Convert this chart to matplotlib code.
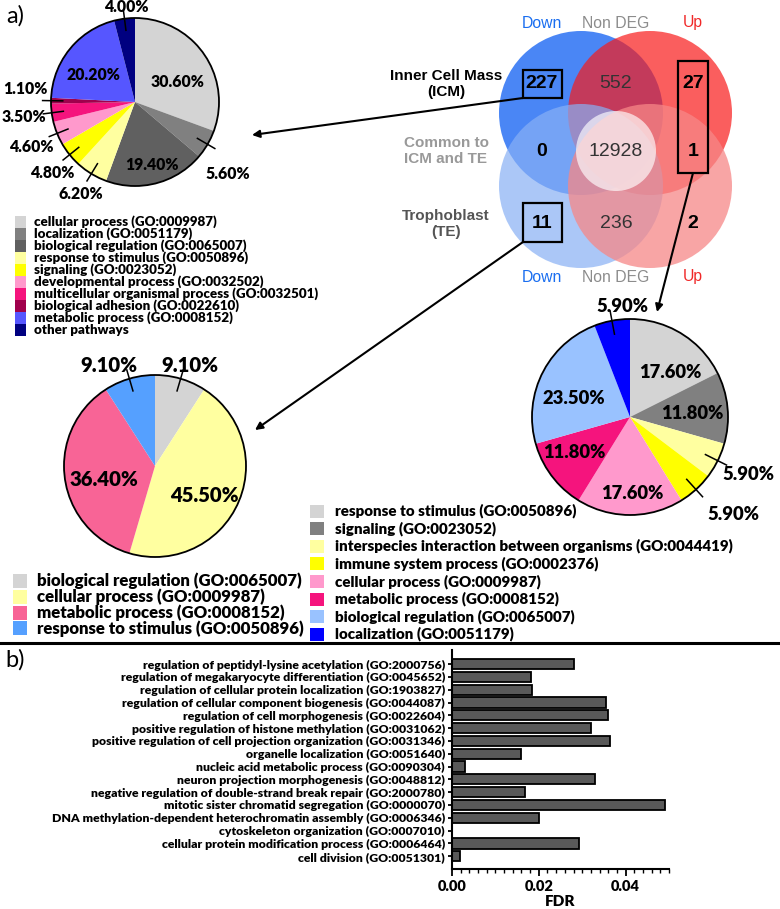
import numpy as np
import matplotlib.pyplot as plt
from matplotlib.patches import Circle, Rectangle

plt.rcParams['font.family'] = ['Lato', 'DejaVu Sans']
BOLD = 800

W, H = 780, 909

# --- data -------------------------------------------------------------
icm_down_terms = ['cellular process (GO:0009987)', 'localization (GO:0051179)',
                  'biological regulation (GO:0065007)', 'response to stimulus (GO:0050896)',
                  'signaling (GO:0023052)', 'developmental process (GO:0032502)',
                  'multicellular organismal process (GO:0032501)', 'biological adhesion (GO:0022610)',
                  'metabolic process (GO:0008152)', 'other pathways']
icm_down_pct = [30.6, 5.6, 19.4, 6.2, 4.8, 4.6, 3.5, 1.1, 20.2, 4.0]
icm_down_col = ['#d4d4d4', '#808080', '#606060', '#ffffa0', '#ffff00', '#ff99cc',
                '#f5147d', '#a0004c', '#5656ff', '#000080']

te_down_terms = ['biological regulation (GO:0065007)', 'cellular process (GO:0009987)',
                 'metabolic process (GO:0008152)', 'response to stimulus (GO:0050896)']
te_down_pct = [9.1, 45.5, 36.4, 9.1]
te_down_col = ['#d4d4d4', '#ffffa0', '#f86496', '#55a0ff']

icm_up_terms = ['response to stimulus (GO:0050896)', 'signaling (GO:0023052)',
                'interspecies interaction between organisms (GO:0044419)',
                'immune system process (GO:0002376)', 'cellular process (GO:0009987)',
                'metabolic process (GO:0008152)', 'biological regulation (GO:0065007)',
                'localization (GO:0051179)']
icm_up_pct = [17.6, 11.8, 5.9, 5.9, 17.6, 11.8, 23.5, 5.9]
icm_up_col = ['#d4d4d4', '#808080', '#ffffa0', '#ffff00', '#ff99cc', '#f5147d',
              '#99c2ff', '#0000ff']

venn_counts = [[227, 552, 27], [0, 12928, 1], [11, 236, 2]]
venn_cols = ['Down', 'Non DEG', 'Up']

go_terms = ['regulation of peptidyl-lysine acetylation (GO:2000756)',
            'regulation of megakaryocyte differentiation (GO:0045652)',
            'regulation of cellular protein localization (GO:1903827)',
            'regulation of cellular component biogenesis (GO:0044087)',
            'regulation of cell morphogenesis (GO:0022604)',
            'positive regulation of histone methylation (GO:0031062)',
            'positive regulation of cell projection organization (GO:0031346)',
            'organelle localization (GO:0051640)',
            'nucleic acid metabolic process (GO:0090304)',
            'neuron projection morphogenesis (GO:0048812)',
            'negative regulation of double-strand break repair (GO:2000780)',
            'mitotic sister chromatid segregation (GO:0000070)',
            'DNA methylation-dependent heterochromatin assembly (GO:0006346)',
            'cytoskeleton organization (GO:0007010)',
            'cellular protein modification process (GO:0006464)',
            'cell division (GO:0051301)']
fdr = [0.0281, 0.0182, 0.0185, 0.0355, 0.0360, 0.0320, 0.0365, 0.0159,
       0.0030, 0.0329, 0.0169, 0.0491, 0.0200, 0.0, 0.0292, 0.0018]

fig = plt.figure(figsize=(W / 100, H / 100), dpi=100)


def px_axes(x0, y0, w, h):
    return fig.add_axes([x0 / W, 1 - (y0 + h) / H, w / W, h / H])


# overlay in pixel coordinates (y down)
ov = px_axes(0, 0, W, H)
ov.set_xlim(0, W)
ov.set_ylim(H, 0)
ov.axis('off')


def draw_pie(cx, cy, r, vals, cols, lab_xy, fs, outside):
    ax = px_axes(cx - r - 2, cy - r - 2, 2 * r + 4, 2 * r + 4)
    lim = (r + 2) / r
    wedges, _ = ax.pie(vals, colors=cols, startangle=90, counterclock=False,
                       wedgeprops=dict(linewidth=0))
    ax.add_patch(Circle((0, 0), 1, fill=False, lw=1.3, ec='k'))
    ax.set_xlim(-lim, lim)
    ax.set_ylim(-lim, lim)
    ax.axis('off')
    for w, v, (lx, ly), out in zip(wedges, vals, lab_xy, outside):
        ang = np.deg2rad((w.theta1 + w.theta2) / 2)
        if out:
            ax.plot([0.86 * np.cos(ang), 1.1 * np.cos(ang)],
                    [0.86 * np.sin(ang), 1.1 * np.sin(ang)], color='k', lw=1.1,
                    clip_on=False)
        ax.text(lx, ly, f'{v:.2f}%', ha='center', va='center', fontsize=fs,
                fontweight=BOLD, clip_on=False)
    return ax


# pie ICM down
draw_pie(135, 102, 84, icm_down_pct, icm_down_col,
         [(0.51, 0.24), (1.10, -0.86), (0.20, -0.75), (-0.65, -1.10), (-0.98, -0.85),
          (-1.23, -0.54), (-1.32, -0.18), (-1.30, 0.16), (-0.49, 0.32), (-0.10, 1.13)],
         11.3, [False, True, False, True, True, True, True, True, False, True])

# pie TE down
draw_pie(155, 466, 91, te_down_pct, te_down_col,
         [(0.38, 1.10), (0.54, -0.32), (-0.56, -0.15), (-0.51, 1.10)],
         14.6, [True, False, False, True])

# pie ICM up
draw_pie(630, 417, 98, icm_up_pct, icm_up_col,
         [(0.41, 0.45), (0.64, 0.04), (1.21, -0.59), (1.06, -0.99), (0.02, -0.78),
          (-0.57, -0.36), (-0.57, 0.19), (-0.08, 1.13)],
         13.2, [False, False, True, True, False, False, False, True])

# legends
for i, (t, c) in enumerate(zip(icm_down_terms, icm_down_col)):
    y = 222 + 12 * i
    ov.add_patch(Rectangle((15, y - 6), 11, 12, color=c, lw=0))
    ov.text(34, y, t, fontsize=9.6, fontweight=BOLD, va='center')

for i, (t, c) in enumerate(zip(te_down_terms, te_down_col)):
    y = 581 + 15.8 * i
    ov.add_patch(Rectangle((13, y - 7), 14, 14, color=c, lw=0))
    ov.text(37, y, t, fontsize=12.1, fontweight=BOLD, va='center')

for i, (t, c) in enumerate(zip(icm_up_terms, icm_up_col)):
    y = 511 + 17.6 * i
    ov.add_patch(Rectangle((310, y - 6.5), 14, 13, color=c, lw=0))
    ov.text(335, y, t, fontsize=10.9, fontweight=BOLD, va='center')

# venn diagram
vfont = ['Liberation Sans', 'DejaVu Sans']
circ = [((581, 113), (29 / 255, 104 / 255, 243 / 255), 0.8),
        ((650, 113), (248 / 255, 26 / 255, 26 / 255), 0.7),
        ((581, 186), (136 / 255, 176 / 255, 245 / 255), 0.7),
        ((650, 186), (246 / 255, 135 / 255, 135 / 255), 0.75)]
for c, col, a in circ:
    ov.add_patch(Circle(c, 82, color=col, alpha=a, lw=0))
ov.add_patch(Circle((616, 151), 40, color='white', alpha=0.65, lw=0))

col_x = [542, 616, 693]
row_y = [84, 151, 223]
for r, row in enumerate(venn_counts):
    for c, n in enumerate(row):
        bold = c != 1
        ov.text(col_x[c], row_y[r], str(n), ha='center', va='center', fontsize=14,
                family=vfont, fontweight='bold' if bold else 'normal',
                color='k' if bold else '#333333')

hdr_col = ['#1a6ef0', '#8c8c8c', '#f02828']
for x, t, c in zip(col_x, venn_cols, hdr_col):
    ov.text(x, 23, t, ha='center', va='center', fontsize=11.3, family=vfont, color=c)
    ov.text(x, 277, t, ha='center', va='center', fontsize=11.3, family=vfont, color=c)

ov.text(446, 84, 'Inner Cell Mass\n(ICM)', ha='center', va='center', fontsize=11,
        family=vfont, fontweight='bold', linespacing=1.15)
ov.text(446, 151, 'Common to\nICM and TE', ha='center', va='center', fontsize=11,
        family=vfont, fontweight='bold', color='#999999', linespacing=1.15)
ov.text(446, 224, 'Trophoblast\n(TE)', ha='center', va='center', fontsize=11,
        family=vfont, fontweight='bold', color='#555555', linespacing=1.15)

for x0, y0, w, h in [(523, 70, 39, 28), (678, 61, 30, 112), (523, 203, 39, 39)]:
    ov.add_patch(Rectangle((x0, y0), w, h, fill=False, lw=1.6, ec='k'))

arrow = dict(arrowstyle='-|>', lw=1.5, color='k', mutation_scale=11,
             shrinkA=0, shrinkB=0)
ov.annotate('', xy=(252, 135), xytext=(523, 98), arrowprops=arrow)
ov.annotate('', xy=(255, 430), xytext=(523, 242), arrowprops=arrow)
ov.annotate('', xy=(657, 312), xytext=(693, 173), arrowprops=arrow)

# panel labels and divider
ov.text(6, 16, 'a)', fontsize=17, va='center')
ov.text(5, 660, 'b)', fontsize=17, va='center')
ov.plot([0, 778], [643, 643], color='k', lw=2.2)

# bar chart
bx = px_axes(452, 650, 217, 219)
ypos = np.arange(len(go_terms))[::-1]
bx.barh(ypos, fdr, height=0.8, color='#595959', edgecolor='k', linewidth=1.3)
bx.set_xlim(0, 0.05)
bx.set_ylim(-1.0, 16.1)
bx.set_yticks(ypos)
bx.set_yticklabels(go_terms, fontsize=8.8, fontweight=BOLD)
bx.set_xticks([0, 0.02, 0.04])
bx.set_xticklabels(['0.00', '0.02', '0.04'], fontsize=10.5, fontweight=BOLD)
bx.set_xticks(np.arange(0, 0.0501, 0.002), minor=True)
bx.tick_params(axis='y', length=3, width=1.3, pad=2)
bx.tick_params(axis='x', which='major', length=5, width=1.3, pad=3)
bx.tick_params(axis='x', which='minor', length=3, width=1.0)
bx.set_xlabel('FDR', fontsize=11, fontweight=BOLD, labelpad=1)
for s in ['top', 'right']:
    bx.spines[s].set_visible(False)
for s in ['left', 'bottom']:
    bx.spines[s].set_linewidth(1.5)

fig.savefig('out.png', dpi=100)
